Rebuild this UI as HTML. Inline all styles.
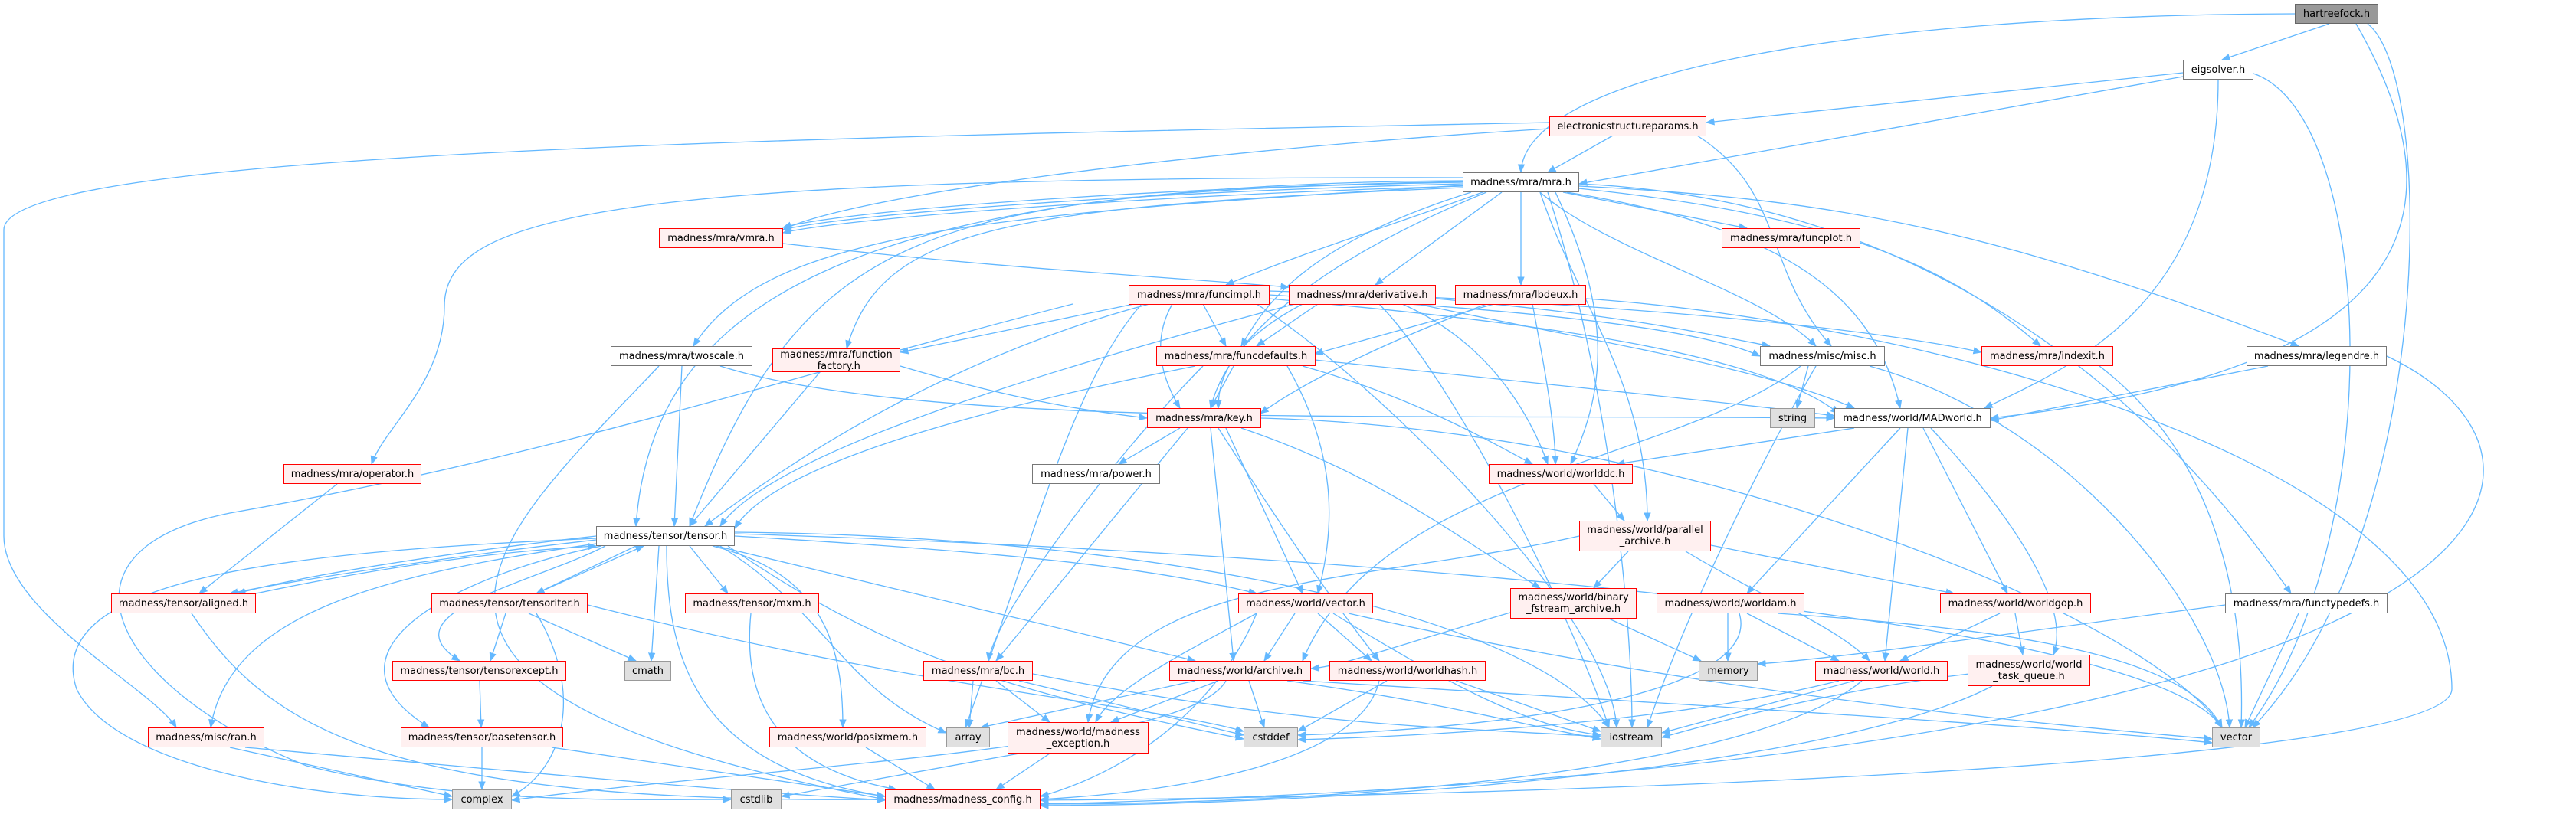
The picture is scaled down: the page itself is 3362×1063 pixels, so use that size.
<!DOCTYPE html>
<html><head><meta charset="utf-8">
<style>
html,body{margin:0;padding:0;background:#fff;}
#c{position:relative;width:3362px;height:1063px;overflow:hidden;background:#fff;}
svg{position:absolute;left:0;top:0;}
.n{position:absolute;box-sizing:border-box;display:flex;align-items:center;justify-content:center;text-align:center;font-family:"DejaVu Sans","Liberation Sans",sans-serif;font-size:13px;line-height:15px;color:#000;white-space:nowrap;}
.r{background:#fff0f0;border:1.5px solid #f00;}
.w{background:#fff;border:1.5px solid #777;}
.g{background:#e0e0e0;border:1.5px solid #999;}
.h{background:#999;border:1.5px solid #666;}
</style></head><body><div id="c">
<svg width="3362" height="1063" viewBox="0 0 3362 1063">
<defs><marker id="a" viewBox="0 0 10 10" refX="9" refY="5" markerWidth="9" markerHeight="9" orient="auto"><path d="M0,1 L10,5 L0,9 z" fill="#63b8ff"/></marker></defs>
<g fill="none" stroke="#63b8ff" stroke-width="1.3" marker-end="url(#a)">
<path d="M2995 18 C2400 20,1990 100,1985 225"/>
<path d="M3040 31 L2900 78"/>
<path d="M3075 31 C3200 250,3200 480,2598 546"/>
<path d="M3090 31 C3180 100,3180 700,2940 950"/>
<path d="M2849 95 L2227 160"/>
<path d="M2849 100 L2061 240"/>
<path d="M2895 104 C2895 400,2700 480,2590 533"/>
<path d="M2941 96 C3100 150,3120 700,2935 950"/>
<path d="M2105 177 L2020 225"/>
<path d="M2215 177 C2330 250,2300 350,2390 452"/>
<path d="M2022 168 C1500 200,1100 260,1022 300"/>
<path d="M2022 160 C1000 180,5 200,5 300 L5 700 C5 800,200 900,230 950"/>
<path d="M1909 240 C1500 250,1100 280,1022 300"/>
<path d="M1909 243 C1500 255,1100 285,1022 304"/>
<path d="M1909 237 C1500 245,1100 275,1022 297"/>
<path d="M1909 238 C1200 250,1050 300,900 687"/>
<path d="M1909 236 C1100 240,850 400,830 687"/>
<path d="M1909 242 C1300 280,1000 300,905 452"/>
<path d="M1909 245 C1300 270,1150 300,1105 455"/>
<path d="M1909 232 C800 230,580 280,580 400 C580 500,500 560,485 606"/>
<path d="M1935 251 C1800 300,1700 330,1600 372"/>
<path d="M1960 251 L1795 372"/>
<path d="M1985 251 L1985 372"/>
<path d="M2040 251 L2280 298"/>
<path d="M2010 251 C2100 330,2300 380,2370 452"/>
<path d="M2050 245 C2400 280,2550 350,2663 452"/>
<path d="M2061 243 C2400 260,2600 300,3000 452"/>
<path d="M2045 251 C2350 300,2450 400,2480 533"/>
<path d="M2061 240 C2500 260,2800 500,2990 775"/>
<path d="M2030 251 C2100 400,2100 500,2050 606"/>
<path d="M2010 251 C2060 400,2150 500,2150 680"/>
<path d="M1940 251 C1700 350,1600 450,1580 533"/>
<path d="M1920 251 C1700 320,1650 400,1620 452"/>
<path d="M2020 251 C2100 500,2130 800,2130 950"/>
<path d="M1022 318 C1300 350,1500 360,1682 375"/>
<path d="M1480 397 L1175 460"/>
<path d="M1570 397 L1600 452"/>
<path d="M1530 397 C1500 450,1520 500,1540 533"/>
<path d="M1500 397 C1300 450,1100 550,920 687"/>
<path d="M1656 385 C1900 400,2200 420,2297 465"/>
<path d="M1656 390 C2000 420,2300 460,2400 540"/>
<path d="M1490 397 C1400 500,1350 700,1260 950"/>
<path d="M1640 397 C1800 500,2100 800,2110 950"/>
<path d="M1656 380 C2000 390,2400 420,2586 460"/>
<path d="M1720 397 L1640 452"/>
<path d="M1700 397 C1600 450,1590 500,1590 533"/>
<path d="M1874 390 C2100 410,2200 430,2310 452"/>
<path d="M1850 397 C2100 450,2300 480,2420 533"/>
<path d="M1830 397 C1950 450,2000 550,2020 606"/>
<path d="M1800 397 C1900 500,2050 800,2100 950"/>
<path d="M1690 397 C1300 500,1000 600,940 687"/>
<path d="M1950 397 L1716 462"/>
<path d="M1940 397 C1800 450,1700 500,1645 540"/>
<path d="M2000 397 C2010 450,2030 550,2030 606"/>
<path d="M2070 390 C2500 420,3200 600,3200 900 C3200 1000,2000 1040,1358 1045"/>
<path d="M890 478 L880 687"/>
<path d="M940 478 C1200 560,1800 540,2394 546"/>
<path d="M860 478 C650 700,400 900,1155 1044"/>
<path d="M1070 486 L900 687"/>
<path d="M1175 478 C1350 530,1450 540,1497 546"/>
<path d="M1610 478 L1580 533"/>
<path d="M1560 478 C1200 550,1000 620,959 690"/>
<path d="M1716 470 C2000 500,2300 530,2394 543"/>
<path d="M1570 478 C1450 600,1300 800,1290 863"/>
<path d="M1680 478 C1750 600,1740 700,1720 775"/>
<path d="M1700 478 C1850 520,1950 580,2000 606"/>
<path d="M2360 478 L2345 533"/>
<path d="M2370 478 C2300 600,2200 800,2150 950"/>
<path d="M2350 478 C2200 600,1800 620,1700 863"/>
<path d="M2440 478 C2700 550,2900 800,2910 950"/>
<path d="M2740 478 C2900 600,2930 800,2925 950"/>
<path d="M2960 478 L2598 549"/>
<path d="M3115 465 C3400 600,3350 1000,1358 1050"/>
<path d="M1540 559 L1460 606"/>
<path d="M1600 559 L1700 775"/>
<path d="M1550 559 L1300 863"/>
<path d="M1580 559 L1610 863"/>
<path d="M1590 559 C1680 700,1750 800,1800 863"/>
<path d="M1620 559 C1800 620,1900 700,2010 768"/>
<path d="M1646 546 C2200 560,2800 800,2900 950"/>
<path d="M2420 559 L2110 606"/>
<path d="M2480 559 L2280 775"/>
<path d="M2490 559 L2460 863"/>
<path d="M2510 559 L2620 775"/>
<path d="M2520 559 C2650 700,2700 800,2680 855"/>
<path d="M2080 632 L2120 680"/>
<path d="M2125 720 L2080 768"/>
<path d="M2233 712 L2550 775"/>
<path d="M2200 720 C2300 780,2400 820,2440 863"/>
<path d="M2061 700 C1800 760,1450 750,1420 943"/>
<path d="M2100 808 L2220 863"/>
<path d="M1971 800 C1800 850,1750 870,1711 873"/>
<path d="M2255 801 L2255 863"/>
<path d="M2280 801 L2400 863"/>
<path d="M2320 801 C2600 820,2850 850,2900 950"/>
<path d="M2270 801 C2300 900,2000 950,1694 960"/>
<path d="M2610 801 L2480 863"/>
<path d="M2630 801 L2640 855"/>
<path d="M2904 790 C2600 830,2400 860,2294 867"/>
<path d="M3000 801 L2930 950"/>
<path d="M2400 889 C2200 940,1900 960,1694 966"/>
<path d="M2420 889 L2169 957"/>
<path d="M2430 889 C2300 1000,1800 1050,1358 1050"/>
<path d="M2570 880 C2400 900,2250 940,2169 963"/>
<path d="M2600 896 C2400 1000,1800 1050,1358 1052"/>
<path d="M1690 801 L1650 863"/>
<path d="M1720 801 L1790 863"/>
<path d="M1640 801 C1550 850,1450 900,1430 943"/>
<path d="M1740 801 C1900 900,2000 950,2089 960"/>
<path d="M1760 801 C2200 900,2600 940,2887 965"/>
<path d="M1640 801 C1600 900,1500 1000,1358 1040"/>
<path d="M1560 889 L1280 950"/>
<path d="M1590 889 L1450 943"/>
<path d="M1630 889 L1650 950"/>
<path d="M1680 889 C1900 920,2000 950,2089 965"/>
<path d="M1700 889 C2200 920,2700 950,2887 970"/>
<path d="M1600 889 C1550 980,1000 1000,668 1045"/>
<path d="M1810 889 L1694 955"/>
<path d="M1900 889 L2089 955"/>
<path d="M1800 889 C1780 980,1600 1030,1358 1044"/>
<path d="M1270 889 L1265 950"/>
<path d="M1300 889 L1370 943"/>
<path d="M1330 889 L1623 960"/>
<path d="M1348 880 C1700 950,1900 950,2089 962"/>
<path d="M1330 984 L1020 1040"/>
<path d="M1370 984 L1300 1031"/>
<path d="M778 700 C600 720,400 750,310 775"/>
<path d="M778 705 C600 725,400 755,300 775"/>
<path d="M334 775 C500 740,650 720,778 713"/>
<path d="M830 713 L700 775"/>
<path d="M700 775 L840 713"/>
<path d="M900 713 L950 775"/>
<path d="M860 713 L850 863"/>
<path d="M790 713 C700 760,500 800,600 863"/>
<path d="M785 713 C600 750,400 850,560 950"/>
<path d="M778 710 C500 750,300 800,275 950"/>
<path d="M778 703 C400 720,50 750,100 900 C150 1000,400 1044,590 1044"/>
<path d="M870 713 C870 850,900 1000,1155 1040"/>
<path d="M930 713 C1080 750,1100 850,1100 950"/>
<path d="M940 713 C1080 800,1100 900,1235 957"/>
<path d="M950 713 C1150 850,1300 900,1623 965"/>
<path d="M935 713 L1560 863"/>
<path d="M959 700 C1300 720,1500 740,1640 775"/>
<path d="M959 697 C1700 720,2800 800,2900 950"/>
<path d="M959 695 C1500 700,2000 800,2100 950"/>
<path d="M660 801 L640 863"/>
<path d="M690 801 L830 863"/>
<path d="M700 801 C760 900,740 1000,668 1040"/>
<path d="M767 790 C1200 900,1500 920,1623 955"/>
<path d="M626 889 L628 950"/>
<path d="M629 976 L629 1031"/>
<path d="M720 976 L1155 1040"/>
<path d="M250 801 C350 950,500 1050,1155 1044"/>
<path d="M980 801 C970 900,1000 1000,1170 1031"/>
<path d="M1130 976 L1220 1031"/>
<path d="M300 976 L590 1040"/>
<path d="M320 976 C600 1000,900 1030,1155 1045"/>
<path d="M440 632 L260 775"/>
<path d="M1400 397 C1000 500,700 600,300 670 C50 720,150 900,400 1000 C600 1050,800 1044,954 1044"/>
</g>
</svg>
<div class="n h" style="left:2995px;top:5px;width:109px;height:26px">hartreefock.h</div>
<div class="n w" style="left:2849px;top:78px;width:92px;height:26px">eigsolver.h</div>
<div class="n r" style="left:2022px;top:152px;width:205px;height:26px">electronicstructureparams.h</div>
<div class="n w" style="left:1909px;top:225px;width:152px;height:26px">madness/mra/mra.h</div>
<div class="n r" style="left:860px;top:298px;width:162px;height:26px">madness/mra/vmra.h</div>
<div class="n r" style="left:2247px;top:298px;width:181px;height:26px">madness/mra/funcplot.h</div>
<div class="n r" style="left:1473px;top:372px;width:184px;height:26px">madness/mra/funcimpl.h</div>
<div class="n r" style="left:1682px;top:372px;width:192px;height:26px">madness/mra/derivative.h</div>
<div class="n r" style="left:1899px;top:372px;width:171px;height:26px">madness/mra/lbdeux.h</div>
<div class="n w" style="left:797px;top:452px;width:185px;height:26px">madness/mra/twoscale.h</div>
<div class="n r" style="left:1008px;top:455px;width:167px;height:31px">madness/mra/function<br>_factory.h</div>
<div class="n r" style="left:1509px;top:452px;width:208px;height:26px">madness/mra/funcdefaults.h</div>
<div class="n w" style="left:2297px;top:452px;width:163px;height:26px">madness/misc/misc.h</div>
<div class="n r" style="left:2586px;top:452px;width:172px;height:26px">madness/mra/indexit.h</div>
<div class="n w" style="left:2932px;top:452px;width:183px;height:26px">madness/mra/legendre.h</div>
<div class="n r" style="left:1497px;top:533px;width:149px;height:26px">madness/mra/key.h</div>
<div class="n g" style="left:2310px;top:533px;width:59px;height:26px">string</div>
<div class="n w" style="left:2394px;top:533px;width:204px;height:26px">madness/world/MADworld.h</div>
<div class="n r" style="left:370px;top:606px;width:180px;height:26px">madness/mra/operator.h</div>
<div class="n w" style="left:1347px;top:606px;width:167px;height:26px">madness/mra/power.h</div>
<div class="n r" style="left:1943px;top:606px;width:188px;height:26px">madness/world/worlddc.h</div>
<div class="n r" style="left:2061px;top:680px;width:172px;height:40px">madness/world/parallel<br>_archive.h</div>
<div class="n w" style="left:778px;top:687px;width:181px;height:26px">madness/tensor/tensor.h</div>
<div class="n r" style="left:145px;top:775px;width:189px;height:26px">madness/tensor/aligned.h</div>
<div class="n r" style="left:563px;top:775px;width:204px;height:26px">madness/tensor/tensoriter.h</div>
<div class="n r" style="left:894px;top:775px;width:175px;height:26px">madness/tensor/mxm.h</div>
<div class="n r" style="left:1616px;top:775px;width:176px;height:26px">madness/world/vector.h</div>
<div class="n r" style="left:1971px;top:768px;width:165px;height:40px">madness/world/binary<br>_fstream_archive.h</div>
<div class="n r" style="left:2162px;top:775px;width:193px;height:26px">madness/world/worldam.h</div>
<div class="n r" style="left:2532px;top:775px;width:197px;height:26px">madness/world/worldgop.h</div>
<div class="n w" style="left:2904px;top:775px;width:212px;height:26px">madness/mra/functypedefs.h</div>
<div class="n r" style="left:512px;top:863px;width:227px;height:26px">madness/tensor/tensorexcept.h</div>
<div class="n g" style="left:815px;top:863px;width:61px;height:26px">cmath</div>
<div class="n r" style="left:1205px;top:863px;width:143px;height:26px">madness/mra/bc.h</div>
<div class="n r" style="left:1526px;top:863px;width:185px;height:26px">madness/world/archive.h</div>
<div class="n r" style="left:1735px;top:863px;width:204px;height:26px">madness/world/worldhash.h</div>
<div class="n g" style="left:2217px;top:863px;width:77px;height:26px">memory</div>
<div class="n r" style="left:2369px;top:863px;width:173px;height:26px">madness/world/world.h</div>
<div class="n r" style="left:2568px;top:855px;width:160px;height:41px">madness/world/world<br>_task_queue.h</div>
<div class="n r" style="left:193px;top:950px;width:152px;height:26px">madness/misc/ran.h</div>
<div class="n r" style="left:523px;top:950px;width:212px;height:26px">madness/tensor/basetensor.h</div>
<div class="n r" style="left:1004px;top:950px;width:205px;height:26px">madness/world/posixmem.h</div>
<div class="n g" style="left:1235px;top:950px;width:57px;height:26px">array</div>
<div class="n r" style="left:1315px;top:943px;width:184px;height:41px">madness/world/madness<br>_exception.h</div>
<div class="n g" style="left:1623px;top:950px;width:71px;height:26px">cstddef</div>
<div class="n g" style="left:2089px;top:950px;width:80px;height:26px">iostream</div>
<div class="n g" style="left:2887px;top:950px;width:63px;height:26px">vector</div>
<div class="n g" style="left:590px;top:1031px;width:78px;height:26px">complex</div>
<div class="n g" style="left:954px;top:1031px;width:66px;height:26px">cstdlib</div>
<div class="n r" style="left:1155px;top:1031px;width:203px;height:26px">madness/madness_config.h</div>
</div></body></html>
